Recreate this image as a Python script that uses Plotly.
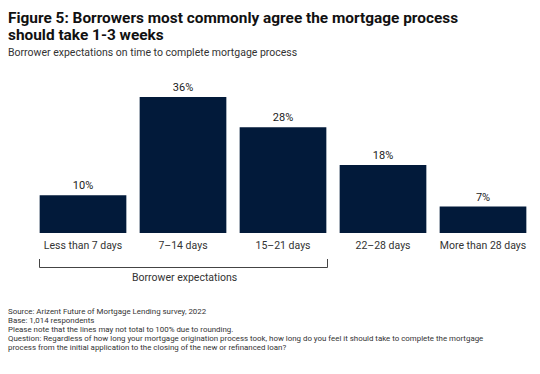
import plotly.graph_objects as go

categories = ["Less than 7 days", "7\u201314 days", "15\u201321 days", "22\u201328 days", "More than 28 days"]
values = [10, 36, 28, 18, 7]
value_labels = ["10%", "36%", "28%", "18%", "7%"]

title_lines = ["Figure 5: Borrowers most commonly agree the mortgage process", "should take 1-3 weeks"]
subtitle = "Borrower expectations on time to complete mortgage process"
bracket_label = "Borrower expectations"
footnotes = [
    "Source: Arizent Future of Mortgage Lending survey, 2022",
    "Base: 1,014 respondents",
    "Please note that the lines may not total to 100% due to rounding.",
    "Question: Regardless of how long your mortgage origination process took, how long do you feel it should take to complete the mortgage",
    "process from the initial application to the closing of the new or refinanced loan?",
]

W, H = 540, 374
L, R, T, B = 33, 7, 60, 141
PW, PH = W - L - R, H - T - B

def px(x):
    return (x - L) / PW

def py(y):
    return (H - B - y) / PH

NAVY = "#021a3a"
FONT = "Roboto"

fig = go.Figure(go.Bar(
    x=categories, y=values, text=value_labels, textposition="outside",
    marker=dict(color=NAVY, line=dict(width=0)),
    textfont=dict(family=FONT, size=11, color="#1a1a1a"),
    cliponaxis=False, hoverinfo="skip",
))

ann = []
ann.append(dict(text="<b>" + title_lines[0] + "</b>", x=px(6), y=py(17.5), xanchor="left", yanchor="middle",
                font=dict(family=FONT, size=15.4, color="#111111")))
ann.append(dict(text="<b>" + title_lines[1] + "</b>", x=px(6), y=py(34.5), xanchor="left", yanchor="middle",
                font=dict(family=FONT, size=15.4, color="#111111")))
ann.append(dict(text=subtitle, x=px(6), y=py(52), xanchor="left", yanchor="middle",
                font=dict(family=FONT, size=10.5, color="#333333")))
ann.append(dict(text=bracket_label, x=px(184), y=py(277.5), xanchor="center", yanchor="middle",
                font=dict(family=FONT, size=10.5, color="#333333")))
for i, line in enumerate(footnotes):
    ann.append(dict(text=line, x=px(6), y=py(311 + 9 * i), xanchor="left", yanchor="middle",
                    font=dict(family=FONT, size=7.9, color="#333333")))
for a in ann:
    a.update(xref="paper", yref="paper", showarrow=False)

shapes = [
    dict(type="line", xref="x", yref="paper", x0=-0.435, x1=-0.435, y0=py(259), y1=py(267.5)),
    dict(type="line", xref="x", yref="paper", x0=-0.435, x1=2.445, y0=py(267.5), y1=py(267.5)),
    dict(type="line", xref="x", yref="paper", x0=2.445, x1=2.445, y0=py(259), y1=py(267.5)),
]
for s in shapes:
    s["line"] = dict(color="#444444", width=1)

fig.update_layout(
    width=W, height=H, margin=dict(l=L, r=R, t=T, b=B),
    paper_bgcolor="white", plot_bgcolor="white",
    bargap=0.133, showlegend=False,
    annotations=ann, shapes=shapes,
    xaxis=dict(showgrid=False, showline=False, zeroline=False, ticks="", ticklabelstandoff=4,
               tickfont=dict(family=FONT, size=10.5, color="#333333"), fixedrange=True),
    yaxis=dict(range=[0, PH / 3.778], visible=False, fixedrange=True),
)

fig.write_html("out.html", config={"displayModeBar": False},
               post_script="document.body.style.margin='0';")
